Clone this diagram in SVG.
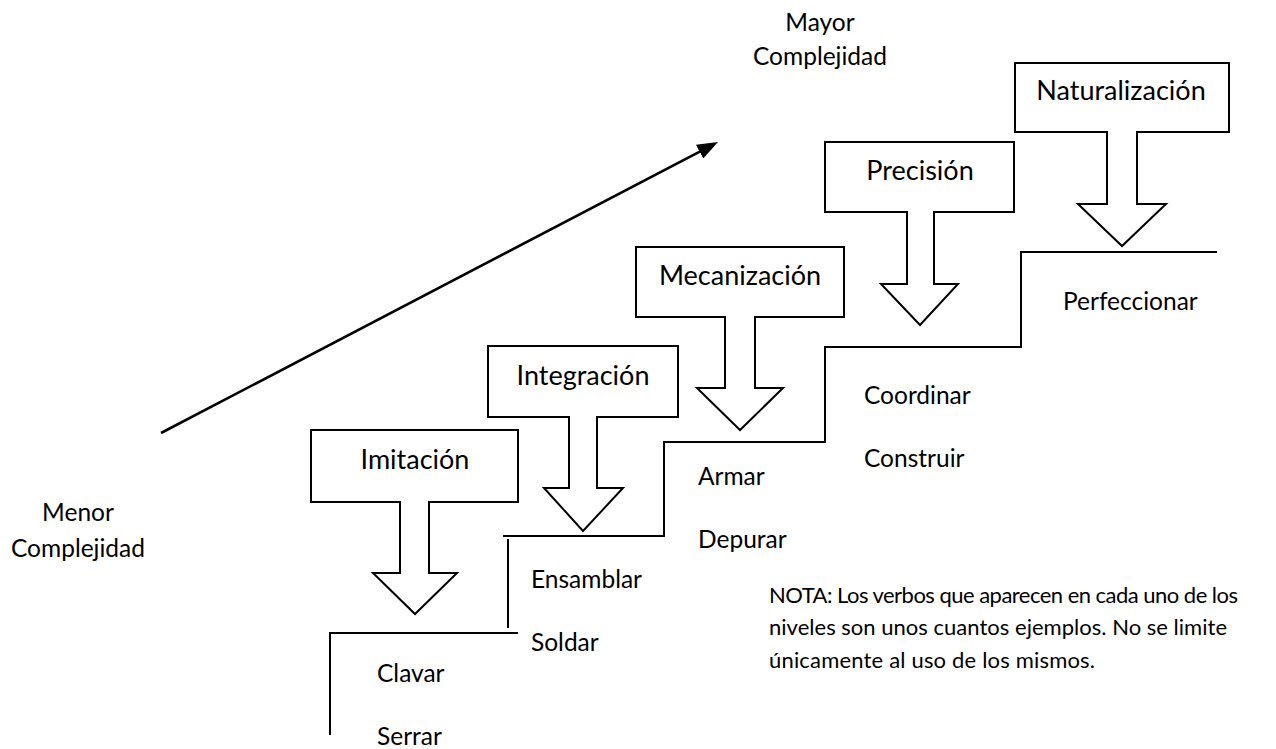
<svg xmlns="http://www.w3.org/2000/svg" width="1276" height="749" viewBox="0 0 1276 749">
<style>
.shape{fill:#fff;stroke:#000;stroke-width:2;stroke-linejoin:miter}
.line{fill:none;stroke:#000;stroke-width:2}
.lbl{font-family:Lato,"Liberation Sans",sans-serif;font-size:27px;fill:#000;text-anchor:middle}
.verb{font-family:Lato,"Liberation Sans",sans-serif;font-size:24.5px;fill:#000}
.axis{font-family:Lato,"Liberation Sans",sans-serif;font-size:24.5px;fill:#000;text-anchor:middle}
.note{font-family:Lato,"Liberation Sans",sans-serif;font-size:22px;fill:#000}
</style>
<defs>
<marker id="ah" markerWidth="8" markerHeight="6" refX="5.7" refY="3" orient="auto" markerUnits="strokeWidth">
<path d="M0,0 L8,3 L0,6 Z" fill="#000"/>
</marker>
</defs>
<rect width="1276" height="749" fill="#fff"/>
<g id="connectors">
<line class="line" x1="161" y1="433" x2="712.7" y2="144.8" style="stroke-width:2.6" marker-end="url(#ah)"/>
<polyline class="line" points="330,735 330,633 518,633"/>
<line class="line" x1="508" y1="628" x2="508" y2="539"/>
<polyline class="line" points="503,536 664,536 664,442 825,442 825,347 1021,347 1021,252 1217,252"/>
</g>
<g id="imitacion">
<path class="shape" d="M311,430 H518 V502 H429 V573 H457 L415,614 L373,573 H400 V502 H311 Z"/>
<text class="lbl" x="415" y="469">Imitación</text>
</g>
<g id="integracion">
<path class="shape" d="M488,346 H678 V417 H597 V488 H623 L583,531 L544,488 H569 V417 H488 Z"/>
<text class="lbl" x="583" y="385">Integración</text>
</g>
<g id="mecanizacion">
<path class="shape" d="M636,247 H844 V317 H755 V388 H783 L740,430 L697,388 H725 V317 H636 Z"/>
<text class="lbl" x="740" y="285">Mecanización</text>
</g>
<g id="precision">
<path class="shape" d="M825,142 H1014 V212 H934 V284 H958 L920,325 L881,284 H907 V212 H825 Z"/>
<text class="lbl" x="920" y="180">Precisión</text>
</g>
<g id="naturalizacion">
<path class="shape" d="M1015,63 H1229 V132 H1137 V204 H1166 L1122,246 L1078,204 H1107 V132 H1015 Z"/>
<text class="lbl" x="1121" y="100">Naturalización</text>
</g>
<g id="mayor">
<text class="axis" x="820" y="31">Mayor</text>
<text class="axis" x="820" y="65">Complejidad</text>
</g>
<g id="menor">
<text class="axis" x="78" y="521">Menor</text>
<text class="axis" x="78" y="557">Complejidad</text>
</g>
<g id="verbs">
<text class="verb" x="377" y="682">Clavar</text>
<text class="verb" x="377" y="745">Serrar</text>
<text class="verb" x="531" y="588">Ensamblar</text>
<text class="verb" x="531" y="651">Soldar</text>
<text class="verb" x="698" y="485">Armar</text>
<text class="verb" x="698" y="548">Depurar</text>
<text class="verb" x="864" y="404">Coordinar</text>
<text class="verb" x="864" y="467">Construir</text>
<text class="verb" x="1063" y="310">Perfeccionar</text>
</g>
<g id="nota">
<text class="note" x="769" y="603" textLength="469" lengthAdjust="spacing">NOTA: Los verbos que aparecen en cada uno de los</text>
<text class="note" x="769" y="635" textLength="458" lengthAdjust="spacing">niveles son unos cuantos ejemplos. No se limite</text>
<text class="note" x="769" y="668" textLength="326" lengthAdjust="spacing">únicamente al uso de los mismos.</text>
</g>
</svg>
